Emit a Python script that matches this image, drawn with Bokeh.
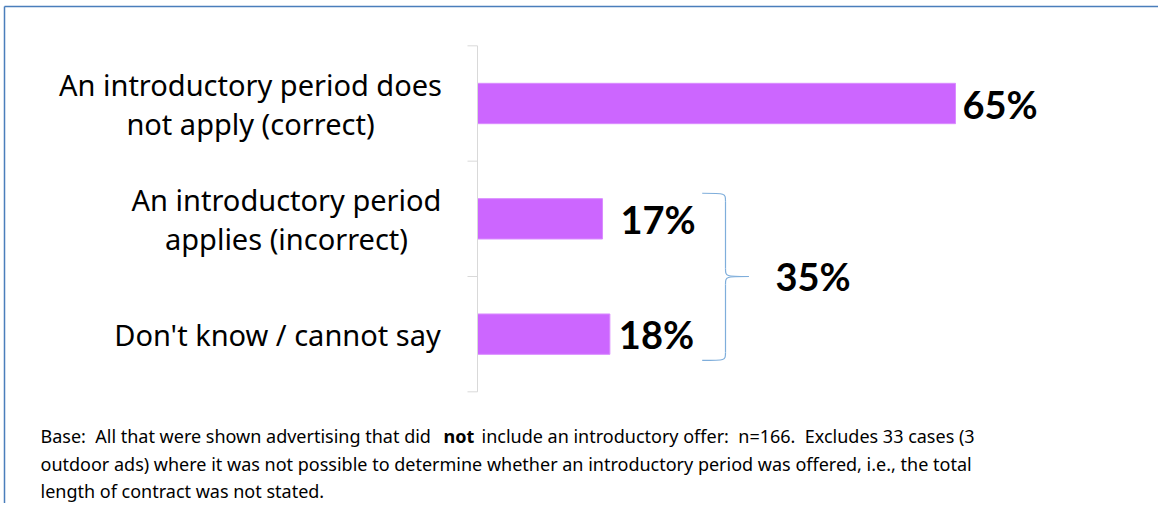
from bokeh.plotting import figure
from bokeh.models import Range1d, ColumnDataSource
from bokeh.core.properties import value
from bokeh.embed import file_html
from bokeh.resources import INLINE

# ---- data ----
categories = ["An introductory period does\nnot apply (correct)",
              "An introductory period\napplies (incorrect)",
              "Don't know / cannot say"]
values = [65, 17, 18]
value_labels = ["65%", "17%", "18%"]
group_members = [1, 2]          # indices bracketed together
group_label = "35%"
footnote_line1_a = "Base:\u00a0 All that were shown advertising that did"
footnote_line1_b = "not"
footnote_line1_c = "include an introductory offer:\u00a0 n=166.\u00a0 Excludes 33 cases (3"
footnote_line2 = "outdoor ads) where it was not possible to determine whether an introductory period was offered, i.e., the total"
footnote_line3 = "length of contract was not stated."

# ---- layout helpers (canvas pixel -> data) ----
W, H = 1158, 503
PX_PER_X = 7.354          # pixels per percentage point
PX_PER_Y = 115.33         # pixels per category band
X0 = 477.0                # canvas x of value 0
Y0 = 103.0                # canvas y of first category centre
def dx(px):
    return (px - X0) / PX_PER_X
def dy(py):
    return (py - Y0) / PX_PER_Y

p = figure(width=W, height=H, output_backend="svg", toolbar_location=None,
           x_range=Range1d(dx(0), dx(W)), y_range=Range1d(dy(H), dy(0)),
           x_axis_location=None, y_axis_location=None,
           min_border=0, min_border_left=0, min_border_right=0,
           min_border_top=0, min_border_bottom=0)
p.grid.visible = False
p.outline_line_color = None
p.background_fill_color = "white"
p.border_fill_color = "white"

# frame border (top and left)
bcol = "#4A7EBB"
p.segment(x0=[dx(4), dx(4)], y0=[dy(6), dy(6)], x1=[dx(W), dx(4)], y1=[dy(6), dy(H)],
          line_color=bcol, line_width=1.5)

n = len(categories)
ys = list(range(n))

# bars
src = ColumnDataSource(dict(y=ys, v=values, lab=value_labels, cat=categories))
p.hbar(y="y", left=0, right="v", height=0.35, source=src,
       fill_color="#CC66FF", line_color="#DA8CFF", line_width=1)

# category axis line and ticks
p.segment(x0=[0], y0=[-0.5], x1=[0], y1=[n - 0.5], line_color="#D9D9D9", line_width=1)
tick_len = 10 / PX_PER_X
ticks = [i - 0.5 for i in range(n + 1)]
p.segment(x0=[0] * len(ticks), y0=ticks, x1=[-tick_len] * len(ticks), y1=ticks,
          line_color="#D9D9D9", line_width=1)

# category labels
label_cx = [250, 286, 277]
p.text(x=[dx(c) for c in label_cx], y=ys, text=categories,
       text_font=value("Noto Sans"), text_font_size="29px", text_color="#000000",
       text_align="center", text_baseline="middle", text_line_height=1.0)

# value labels
label_dx_px = [7, 18, 9]
p.text(x=[v + d / PX_PER_X for v, d in zip(values, label_dx_px)], y=ys, text=value_labels,
       text_font=value("Lato"), text_font_size="38px", text_font_style="bold",
       text_color="#000000", text_align="left", text_baseline="middle")

# brace grouping
g0, g1 = group_members[0], group_members[-1]
yt, yb, ym = g0 - 0.222, g1 + 0.228, (g0 + g1) / 2
xl, xs, xt = dx(701.7), dx(725), dx(748.3)
cy = 8 / PX_PER_Y
bc = "#7FAEDB"
p.bezier(x0=[xl, xs, xs, xs], y0=[yt, ym - cy, ym + cy, yb - cy],
         x1=[xs, xt, xt, xl], y1=[yt + cy, ym, ym, yb],
         cx0=[xs, xs, xs, xs], cy0=[yt, ym, ym, yb],
         cx1=[xs, xs, xs, xs], cy1=[yt, ym, ym, yb],
         line_color=bc, line_width=1.2)
p.segment(x0=[xs, xs], y0=[yt + cy, ym + cy], x1=[xs, xs], y1=[ym - cy, yb - cy],
          line_color=bc, line_width=1.2)
p.text(x=[dx(775)], y=[ym], text=[group_label],
       text_font=value("Lato"), text_font_size="38px", text_font_style="bold",
       text_color="#000000", text_align="left", text_baseline="middle")

# footnote
fn_font = value("Noto Sans")
fs = "18px"
p.text(x=[dx(40)], y=[dy(435)], text=[footnote_line1_a], text_font=fn_font,
       text_font_size=fs, text_color="#000000", text_baseline="alphabetic")
p.text(x=[dx(443)], y=[dy(435)], text=[footnote_line1_b], text_font=fn_font,
       text_font_size=fs, text_font_style="bold", text_color="#000000",
       text_baseline="alphabetic")
p.text(x=[dx(481)], y=[dy(435)], text=[footnote_line1_c], text_font=fn_font,
       text_font_size=fs, text_color="#000000", text_baseline="alphabetic")
p.text(x=[dx(40), dx(40)], y=[dy(463), dy(490)], text=[footnote_line2, footnote_line3],
       text_font=fn_font, text_font_size=fs, text_color="#000000",
       text_baseline="alphabetic")

open("out.html", "w").write(file_html(p, INLINE))
